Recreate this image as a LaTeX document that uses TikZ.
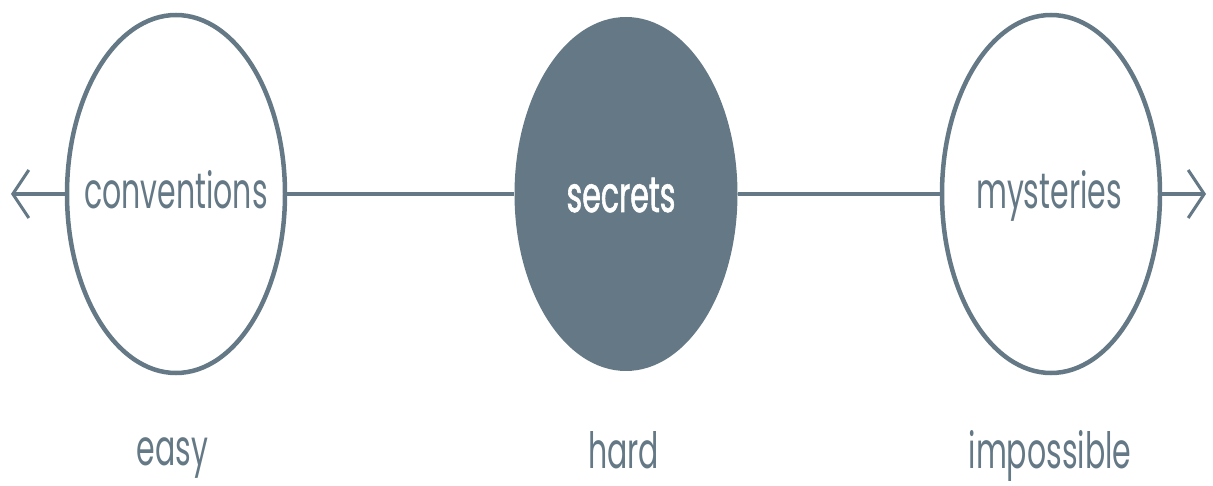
\documentclass[tikz,border=0pt]{standalone}
\usepackage{fontspec}
\usetikzlibrary{shapes.geometric,arrows.meta}
\newfontfamily\labfont[FakeStretch=0.6]{Poppins}
\newfontfamily\labfontb[FakeStretch=0.6,FakeBold=1.2]{Poppins}
\definecolor{slate}{HTML}{647985}
\tikzset{barb/.tip={Straight Barb[length=16pt,width=48pt,line width=3pt]}}
\begin{document}
\begin{tikzpicture}[x=1pt,y=-1pt,
  ring/.style={ellipse,draw=slate,line width=4.5pt,minimum width=218pt,minimum height=358pt,inner sep=0pt},
  solid ring/.style={ellipse,fill=slate,minimum width=223pt,minimum height=354pt,inner sep=0pt},
  inlab/.style={text=slate,font=\labfont\fontsize{50}{50}\selectfont,inner sep=0pt,text height=30pt,text depth=0pt},
  inlabw/.style={text=white,font=\labfontb\fontsize{50}{50}\selectfont,inner sep=0pt,text height=36pt,text depth=0pt},
  lab/.style={anchor=base,text=slate,font=\labfont\fontsize{50}{50}\selectfont,inner sep=0pt},
  axis/.style={draw=slate,line width=3.5pt}]
\useasboundingbox (0,0) rectangle (1213,486);
\node[ring] (conv) at (176,194) {};
\node[solid ring] (sec) at (626,194) {};
\node[ring] (myst) at (1051,194) {};
\node[inlab] (convt) at (conv.center) {conventions};
\node[inlabw] (sect) at ([xshift=-5pt]sec.center) {secrets};
\node[inlab] (mystt) at ([xshift=-2pt]myst.center) {mysteries};
\coordinate (lt) at (11,194);
\coordinate (rt) at (1206,194);
\draw[axis,barb-] (lt) -- (conv);
\draw[axis] (conv) -- (sec);
\draw[axis] (sec) -- (myst);
\draw[axis,-barb] (myst) -- (rt);
\node[lab] (easy) at (172.5,465) {easy};
\node[lab] (hard) at (623.5,468) {hard};
\node[lab] (imp) at (1050,468) {impossible};
\end{tikzpicture}
\end{document}
